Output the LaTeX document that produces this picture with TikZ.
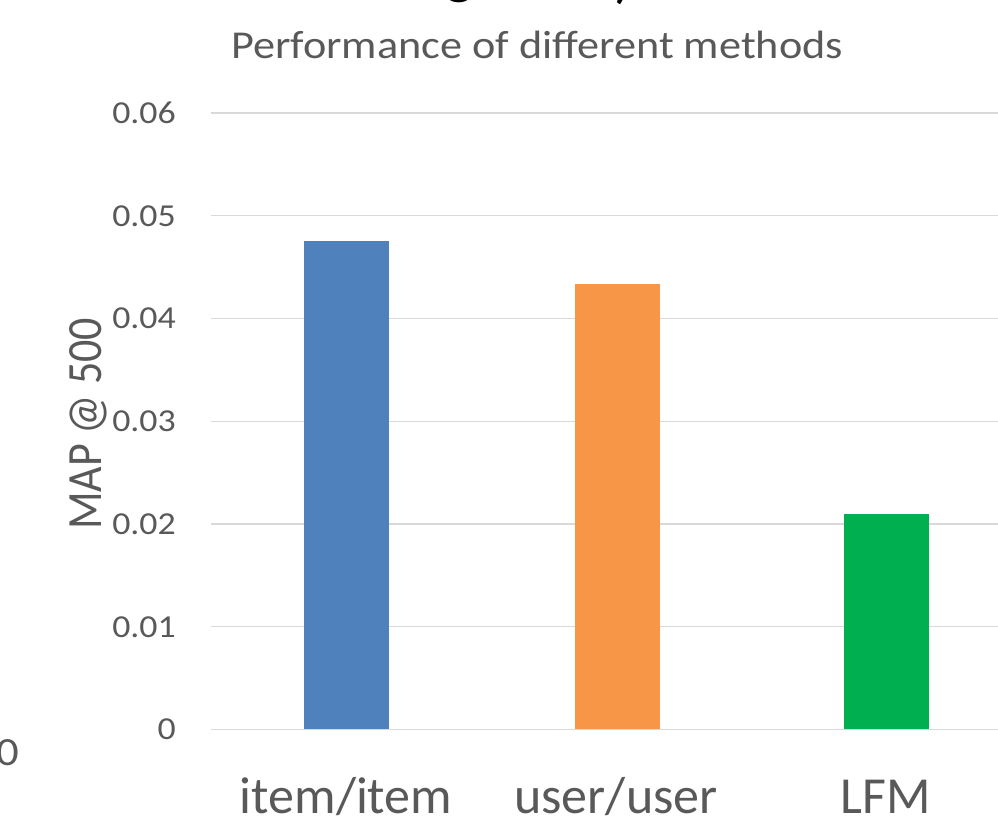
\documentclass[tikz,border=0pt]{standalone}
\usepackage{fontspec}
\setmainfont{Carlito}
\definecolor{gridgray}{HTML}{D9D9D9}
\definecolor{labelgray}{HTML}{595959}
\definecolor{barblue}{HTML}{4F81BD}
\definecolor{barorange}{HTML}{F79646}
\definecolor{bargreen}{HTML}{00B050}
\newcommand{\wide}[1]{\scalebox{1.12}[1]{#1}}
\begin{document}
\begin{tikzpicture}
[x=1pt,y=-1pt,
 gridline/.style={draw=gridgray, line width=1.3pt},
 ticklabel/.style={anchor=east, inner sep=0pt, text=labelgray, font=\fontsize{32}{32}\selectfont},
 catlabel/.style={anchor=base, inner sep=0pt, text=labelgray, font=\fontsize{52}{52}\selectfont}]
\useasboundingbox (0,0) rectangle (998,822);
\clip (0,0) rectangle (998,822);
%% clipped text at the edges
\node[anchor=base, inner sep=0pt, font=\fontsize{60}{60}\selectfont] (topg) at (460,-8) {g};
\node[anchor=base, inner sep=0pt, font=\fontsize{60}{60}\selectfont] (topparen) at (624,-4) {)};
\node[anchor=base east, inner sep=0pt, text=labelgray, font=\fontsize{40}{40}\selectfont] (leftnum) at (19,765) {\wide{50}};
%% title
\node[anchor=base, inner sep=0pt, text=labelgray, font=\fontsize{39.5}{39.5}\selectfont] (title) at (537,58) {\wide{Performance of different methods}};
%% grid lines and tick labels
\foreach \v/\y [count=\i] in {0/729.5, 0.01/626.8, 0.02/524, 0.03/421.3, 0.04/318.5, 0.05/215.8, 0.06/113} {
  \draw[gridline] (211,\y) -- (998,\y);
  \node[ticklabel] (tick\i) at (176,\y) {\wide{\v}};
}
%% bars
\foreach \x/\top/\col in {304/241/barblue, 575/284/barorange, 844/514/bargreen} {
  \fill[\col] (\x,\top) rectangle ({\x+85},728.8);
}
%% axis labels
\node[inner sep=0pt, text=labelgray, font=\fontsize{44}{44}\selectfont] (ylabel) at (88,424) {\wide{\rotatebox{90}{MAP @ 500}}};
\node[catlabel] (itemcat) at (346,813) {item/item};
\node[catlabel] (usercat) at (616,813) {user/user};
\node[catlabel] (lfmcat) at (886,813) {LFM};
\end{tikzpicture}
\end{document}
